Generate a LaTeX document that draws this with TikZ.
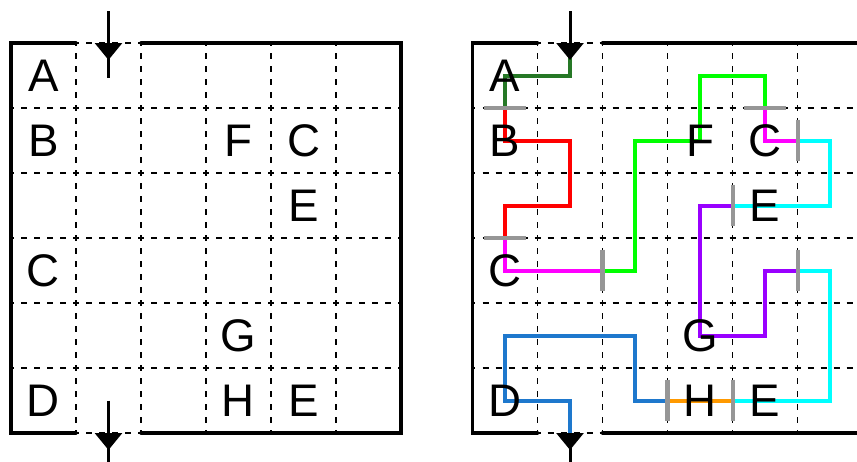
\documentclass[tikz,border=0pt]{standalone}
\usepackage{fontspec}
\setmainfont{Liberation Sans}

\definecolor{pathdkgreen}{RGB}{38,120,38}
\definecolor{pathred}{RGB}{255,0,0}
\definecolor{pathmagenta}{RGB}{255,0,255}
\definecolor{pathgreen}{RGB}{0,255,0}
\definecolor{pathcyan}{RGB}{0,255,255}
\definecolor{pathpurple}{RGB}{153,0,255}
\definecolor{pathorange}{RGB}{255,153,0}
\definecolor{pathblue}{RGB}{30,120,205}
\definecolor{tickgray}{RGB}{150,150,150}

\tikzset{
  gridline/.style={black,line width=0.75pt,dash pattern=on 3.4pt off 4pt,dash phase=1.7pt},
  wall/.style={black,line width=1.9pt,line cap=round},
  route/.style={line width=2.3pt},
  tick/.style={tickgray,line width=2.3pt},
  letter/.style={inner sep=0pt,font=\fontsize{26}{26}\selectfont}
}

\begin{document}
\begin{tikzpicture}[x=1.3cm,y=-1.3cm]
\clip (-0.169,-0.662) rectangle (13.015,6.431);

% left maze, dashed cells:
\draw[gridline] (1,0) -- (1,6);
\draw[gridline] (2,0) -- (2,6);
\draw[gridline] (3,0) -- (3,6);
\draw[gridline] (4,0) -- (4,6);
\draw[gridline] (5,0) -- (5,6);
\draw[gridline] (0,1) -- (6,1);
\draw[gridline] (0,2) -- (6,2);
\draw[gridline] (0,3) -- (6,3);
\draw[gridline] (0,4) -- (6,4);
\draw[gridline] (0,5) -- (6,5);
\draw[gridline] (1,0) -- (2,0);
\draw[gridline] (1,6) -- (2,6);

% left maze, walls:
\draw[wall] (1,0) -- (0,0) -- (0,6) -- (1,6);
\draw[wall] (2,0) -- (6,0) -- (6,6) -- (2,6);

% left maze, entry and exit:
\draw[black,line width=1.7pt] (1.5,-0.49) -- (1.5,0.54);
\fill[black] (1.287,0) -- (1.713,0) -- (1.5,0.26) -- cycle;
\draw[black,line width=1.7pt] (1.5,5.5) -- (1.5,6.5);
\fill[black] (1.287,6) -- (1.713,6) -- (1.5,6.26) -- cycle;

% left maze, letters:
\node[letter] (la) at (0.5,0.5) {A};
\node[letter] (lb) at (0.5,1.5) {B};
\node[letter] (lf) at (3.5,1.5) {F};
\node[letter] (lc1) at (4.5,1.5) {C};
\node[letter] (le1) at (4.5,2.5) {E};
\node[letter] (lc2) at (0.5,3.5) {C};
\node[letter] (lg) at (3.5,4.5) {G};
\node[letter] (ld) at (0.5,5.5) {D};
\node[letter] (lh) at (3.5,5.5) {H};
\node[letter] (le2) at (4.5,5.5) {E};

% right maze, dashed cells:
\draw[gridline] (8.1,0) -- (8.1,6);
\draw[gridline] (9.1,0) -- (9.1,6);
\draw[gridline] (10.1,0) -- (10.1,6);
\draw[gridline] (11.1,0) -- (11.1,6);
\draw[gridline] (12.1,0) -- (12.1,6);
\draw[gridline] (7.1,1) -- (13.1,1);
\draw[gridline] (7.1,2) -- (13.1,2);
\draw[gridline] (7.1,3) -- (13.1,3);
\draw[gridline] (7.1,4) -- (13.1,4);
\draw[gridline] (7.1,5) -- (13.1,5);
\draw[gridline] (8.1,0) -- (9.1,0);
\draw[gridline] (8.1,6) -- (9.1,6);

% right maze, walls:
\draw[wall] (8.1,0) -- (7.1,0) -- (7.1,6) -- (8.1,6);
\draw[wall] (9.1,0) -- (13.1,0) -- (13.1,6) -- (9.1,6);

% right maze, route pieces:
\draw[route,pathdkgreen] (8.6,0) -- (8.6,0.5) -- (7.6,0.5) -- (7.6,1);
\draw[route,pathred] (7.6,1) -- (7.6,1.5) -- (8.6,1.5) -- (8.6,2.5) -- (7.6,2.5) -- (7.6,3);
\draw[route,pathmagenta] (7.6,3) -- (7.6,3.5) -- (9.1,3.5);
\draw[route,pathgreen] (9.1,3.5) -- (9.6,3.5) -- (9.6,1.5) -- (10.6,1.5) -- (10.6,0.5) -- (11.6,0.5) -- (11.6,1);
\draw[route,pathmagenta] (11.6,1) -- (11.6,1.5) -- (12.1,1.5);
\draw[route,pathcyan] (12.1,1.5) -- (12.6,1.5) -- (12.6,2.5) -- (11.1,2.5);
\draw[route,pathpurple] (11.1,2.5) -- (10.6,2.5) -- (10.6,4.5) -- (11.6,4.5) -- (11.6,3.5) -- (12.1,3.5);
\draw[route,pathcyan] (12.1,3.5) -- (12.6,3.5) -- (12.6,5.5) -- (11.1,5.5);
\draw[route,pathorange] (11.1,5.5) -- (10.1,5.5);
\draw[route,pathblue] (10.1,5.5) -- (9.6,5.5) -- (9.6,4.5) -- (7.6,4.5) -- (7.6,5.5) -- (8.6,5.5) -- (8.6,6);

% right maze, entry and exit:
\draw[black,line width=1.7pt] (8.6,-0.49) -- (8.6,0);
\fill[black] (8.387,0) -- (8.813,0) -- (8.6,0.26) -- cycle;
\draw[black,line width=1.7pt] (8.6,6) -- (8.6,6.5);
\fill[black] (8.387,6) -- (8.813,6) -- (8.6,6.26) -- cycle;

% right maze, joints:
\draw[tick] (7.28,1) -- (7.92,1);
\draw[tick] (11.28,1) -- (11.92,1);
\draw[tick] (7.28,3) -- (7.92,3);
\draw[tick] (12.1,1.18) -- (12.1,1.82);
\draw[tick] (11.1,2.18) -- (11.1,2.82);
\draw[tick] (9.1,3.18) -- (9.1,3.82);
\draw[tick] (12.1,3.18) -- (12.1,3.82);
\draw[tick] (10.1,5.18) -- (10.1,5.82);
\draw[tick] (11.1,5.18) -- (11.1,5.82);

% right maze, letters:
\node[letter] (ra) at (7.6,0.5) {A};
\node[letter] (rb) at (7.6,1.5) {B};
\node[letter] (rf) at (10.6,1.5) {F};
\node[letter] (rc1) at (11.6,1.5) {C};
\node[letter] (re1) at (11.6,2.5) {E};
\node[letter] (rc2) at (7.6,3.5) {C};
\node[letter] (rg) at (10.6,4.5) {G};
\node[letter] (rd) at (7.6,5.5) {D};
\node[letter] (rh) at (10.6,5.5) {H};
\node[letter] (re2) at (11.6,5.5) {E};

\end{tikzpicture}
\end{document}
